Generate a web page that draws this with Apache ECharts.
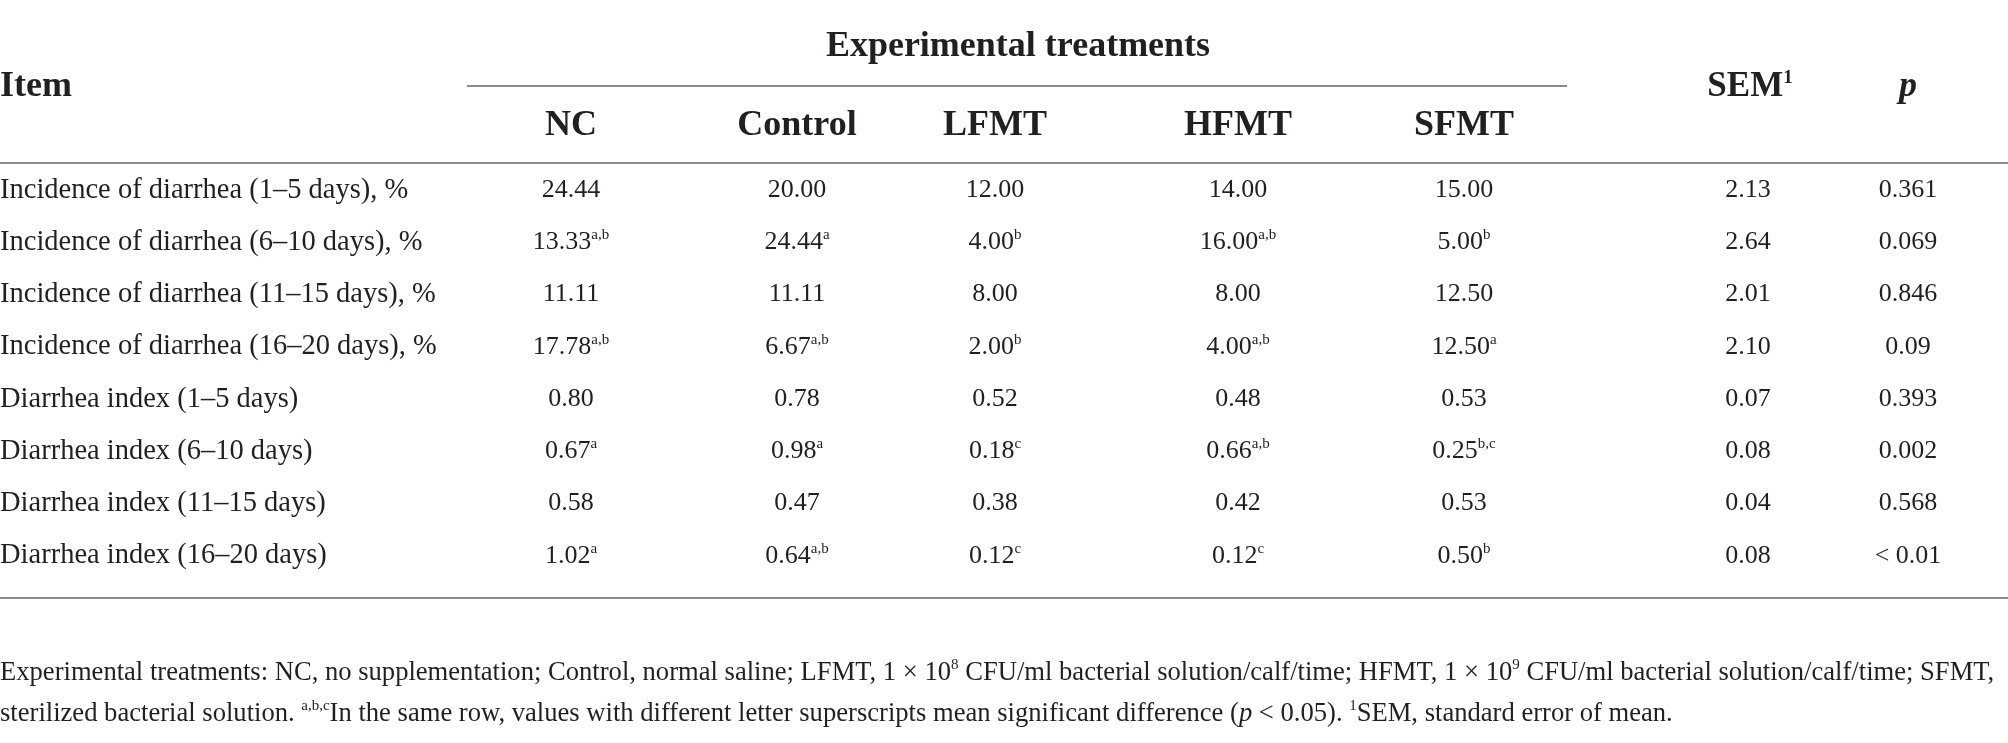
<!DOCTYPE html>
<html>
<head>
<meta charset="utf-8">
<script src="https://cdn.jsdelivr.net/npm/echarts@6/dist/echarts.min.js"></script>
<style>
  html, body { margin: 0; padding: 0; background: #fff; }
  #chart { width: 2008px; height: 743px; }
</style>
</head>
<body>
<div id="chart"></div>
<script>
// 行标题
const items = [
  'Incidence of diarrhea (1–5 days), %',
  'Incidence of diarrhea (6–10 days), %',
  'Incidence of diarrhea (11–15 days), %',
  'Incidence of diarrhea (16–20 days), %',
  'Diarrhea index (1–5 days)',
  'Diarrhea index (6–10 days)',
  'Diarrhea index (11–15 days)',
  'Diarrhea index (16–20 days)'
];
const treatments = ['NC', 'Control', 'LFMT', 'HFMT', 'SFMT'];

// 各列数值，^ 后为上标字母
const nc      = ['24.44', '13.33^a,b', '11.11', '17.78^a,b', '0.80', '0.67^a', '0.58', '1.02^a'];
const control = ['20.00', '24.44^a', '11.11', '6.67^a,b', '0.78', '0.98^a', '0.47', '0.64^a,b'];
const lfmt    = ['12.00', '4.00^b', '8.00', '2.00^b', '0.52', '0.18^c', '0.38', '0.12^c'];
const hfmt    = ['14.00', '16.00^a,b', '8.00', '4.00^a,b', '0.48', '0.66^a,b', '0.42', '0.12^c'];
const sfmt    = ['15.00', '5.00^b', '12.50', '12.50^a', '0.53', '0.25^b,c', '0.53', '0.50^b'];
const sem     = ['2.13', '2.64', '2.01', '2.10', '0.07', '0.08', '0.04', '0.08'];
const pValues = ['0.361', '0.069', '0.846', '0.09', '0.393', '0.002', '0.568', '< 0.01'];

const columns = [nc, control, lfmt, hfmt, sfmt, sem, pValues];

// 版面：各列中心位置（像素）
const colCenters = [571, 797, 995, 1238, 1464, 1748, 1908];

const INK = '#231f20';
const RULE = '#8c8c8c';
const SERIF = '"Liberation Serif", "DejaVu Serif", serif';

// 把 "13.33^a,b" 转成富文本
function cellText(v) {
  const parts = v.split('^');
  return parts.length > 1 ? `{n|${parts[0]}}{s|${parts[1]}}` : `{n|${parts[0]}}`;
}

const cellRich = {
  n: { fontFamily: SERIF, fontSize: 26, color: INK, lineHeight: 29 },
  s: { fontFamily: SERIF, fontSize: 15, color: INK, lineHeight: 15, verticalAlign: 'top' }
};

// 每列一个散点系列，只显示文字
const series = columns.map((col, ci) => ({
  type: 'scatter',
  symbolSize: 0,
  itemStyle: { color: INK, opacity: 1 },
  silent: true,
  data: col.map((v, ri) => ({ value: [colCenters[ci], ri], text: v })),
  label: {
    show: true,
    position: 'inside',
    offset: [0, 2],
    align: 'center',
    verticalAlign: 'middle',
    color: INK,
    opacity: 1,
    textBorderWidth: 0,
    formatter: p => cellText(p.data.text),
    rich: cellRich
  }
}));

// 第一列：项目名称，左对齐
series.unshift({
  type: 'scatter',
  symbolSize: 0,
  itemStyle: { color: INK, opacity: 1 },
  silent: true,
  data: items.map((v, ri) => ({ value: [0, ri], text: v })),
  label: {
    show: true,
    position: 'inside',
    offset: [0, 2],
    align: 'left',
    verticalAlign: 'middle',
    color: INK,
    opacity: 1,
    textBorderWidth: 0,
    fontFamily: SERIF,
    fontSize: 28.5,
    formatter: p => p.data.text
  }
});

const headFont = 'bold 36px ' + SERIF;

const graphics = [
  { type: 'text', x: 1018, y: 47, style: { text: 'Experimental treatments', font: headFont, fill: INK, textAlign: 'center', textVerticalAlign: 'middle' } },
  { type: 'text', x: 0, y: 87, style: { text: 'Item', font: headFont, fill: INK, textAlign: 'left', textVerticalAlign: 'middle' } },
  {
    type: 'text', x: 1750, y: 87,
    style: {
      text: '{b|SEM}{s|1}', textAlign: 'center', textVerticalAlign: 'middle',
      rich: {
        b: { fontFamily: SERIF, fontWeight: 'bold', fontSize: 35, fill: INK, lineHeight: 36 },
        s: { fontFamily: SERIF, fontWeight: 'bold', fontSize: 19, fill: INK, lineHeight: 19, verticalAlign: 'top' }
      }
    }
  },
  { type: 'text', x: 1908, y: 87, style: { text: 'p', font: 'italic bold 36px ' + SERIF, fill: INK, textAlign: 'center', textVerticalAlign: 'middle' } },
  { type: 'line', shape: { x1: 467, y1: 86, x2: 1567, y2: 86 }, style: { stroke: RULE, lineWidth: 2 } },
  { type: 'line', shape: { x1: 0, y1: 163, x2: 2008, y2: 163 }, style: { stroke: RULE, lineWidth: 2 } },
  { type: 'line', shape: { x1: 0, y1: 598, x2: 2008, y2: 598 }, style: { stroke: RULE, lineWidth: 2 } }
];

treatments.forEach((t, i) => {
  graphics.push({ type: 'text', x: colCenters[i], y: 126, style: { text: t, font: headFont, fill: INK, textAlign: 'center', textVerticalAlign: 'middle' } });
});

// 脚注
const noteRich = {
  s: { fontFamily: SERIF, fontSize: 15, fill: INK, lineHeight: 15, verticalAlign: 'top' },
  i: { fontFamily: SERIF, fontStyle: 'italic', fontSize: 26.6, fill: INK, lineHeight: 30 }
};
const noteLines = [
  'Experimental treatments: NC, no supplementation; Control, normal saline; LFMT, 1 × 10{s|8} CFU/ml bacterial solution/calf/time; HFMT, 1 × 10{s|9} CFU/ml bacterial solution/calf/time; SFMT,',
  'sterilized bacterial solution. {s|a,b,c}In the same row, values with different letter superscripts mean significant difference ({i|p} < 0.05). {s|1}SEM, standard error of mean.'
];
[673, 714].forEach((y, i) => {
  graphics.push({
    type: 'text', x: 0, y: y,
    style: {
      text: noteLines[i], fontFamily: SERIF, fontSize: 26.6, fill: INK, lineHeight: 30,
      textAlign: 'left', textVerticalAlign: 'middle', rich: noteRich
    }
  });
});

const chart = echarts.init(document.getElementById('chart'));
chart.setOption({
  animation: false,
  grid: { left: 0, right: 0, top: 162, bottom: 163 },
  xAxis: {
    type: 'value', min: 0, max: 2008,
    show: false
  },
  yAxis: {
    type: 'category',
    data: items,
    inverse: true,
    show: false
  },
  series: series,
  graphic: graphics
});
</script>
</body>
</html>
